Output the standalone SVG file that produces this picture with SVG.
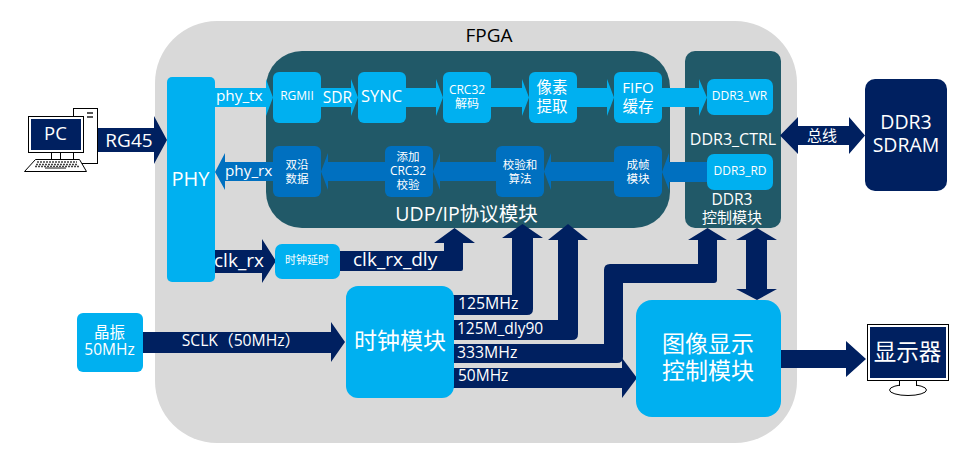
<svg xmlns="http://www.w3.org/2000/svg" width="966" height="453" viewBox="0 0 966 453">
<style>
text{font-family:"Open Sans","Noto Sans CJK SC","Noto Sans",sans-serif;fill:#fff;text-anchor:middle}
.cn{font-family:"Noto Sans CJK SC","Noto Sans",sans-serif}
.l{text-anchor:start}
.lb{fill:#00B0F0}.bl{fill:#0070C0}.nv{fill:#002060}.tl{fill:#215968}
.o{fill:#fff;stroke:#000;stroke-width:1}
</style>
<rect id="fpga-bg" x="155" y="21" width="642" height="422" rx="62" fill="#D9D9D9"/>
<text x="489" y="42" font-size="19" style="fill:#000">FPGA</text>
<g id="udp-panel"><rect class="tl" x="266" y="51" width="404" height="177" rx="36"/><text x="466.500" y="221" font-size="19.500">UDP/IP协议模块</text></g>
<g id="ddr3-panel"><rect class="tl" x="685" y="51" width="96" height="177" rx="10"/>
<text x="733" y="145" font-size="16">DDR3_CTRL</text><text x="732" y="205" font-size="15.500">DDR3</text><text x="732" y="223" font-size="15" class="cn">控制模块</text></g>
<g id="connectors">
<path class="nv" d="M97 128H154V116L167 140L154 164V152H97Z"/>
<path class="lb" d="M215 88H266V79L273 97.500L266 116V107H215Z"/>
<path class="lb" d="M321 88H351V79L358 97.500L351 116V107H321Z"/>
<path class="lb" d="M406 88H436V79L443 97.500L436 116V107H406Z"/>
<path class="lb" d="M491 88H522V79L529 97.500L522 116V107H491Z"/>
<path class="lb" d="M577 88H607V79L614 97.500L607 116V107H577Z"/>
<path class="lb" d="M662 88H699V79L707 97.500L699 116V107H662Z"/>
<path class="bl" d="M273 162H225V153L215 172L225 190V181H273Z"/>
<path class="bl" d="M385 162H328V153L321 171.500L328 190V181H385Z"/>
<path class="bl" d="M496 162H440V153L433 171.500L440 190V181H496Z"/>
<path class="bl" d="M614 162H551V153L544 171.500L551 190V181H614Z"/>
<path class="bl" d="M708 162H669V153L662 172L669 190V182H708Z"/>
<path class="nv" d="M780 135.500L798 117V126H849V117L865 135.500L849 154V145H798V154Z"/>
<path class="nv" d="M214 250H262V239L276 261L262 283V273H214Z"/>
<path class="nv" d="M339 251H444V243H434L454.500 228L475 243H463V269Q463 271 461 271H339Z"/>
<path class="nv" d="M143 332H331V322L345 342L331 362V353H143Z"/>
<path class="nv" d="M453 295H512V238H502L522.500 224L543 238H533V309Q533 315 527 315H453Z"/>
<path class="nv" d="M453 320H558V240H548L568 224L588 240H578V334Q578 340 572 340H453Z"/>
<path class="nv" d="M453 344H604V270Q604 264 610 264H698V240H688L707.500 228L727 240H717V280Q717 283 714 283H623V357Q623 363 617 363H453Z"/>
<path class="nv" d="M453 368H622V358L637 378L622 398V388H453Z"/>
<path class="nv" d="M757 228L777 240H767V289H777L757 300L736 289H746V240H736Z"/>
<path class="nv" d="M780 350H846V341L866 359L846 377V368H780Z"/>
</g>
<g id="phy"><rect class="lb" x="167" y="77" width="48" height="205" rx="5"/><text x="190.500" y="186" font-size="20">PHY</text></g>
<g id="rgmii"><rect class="lb" x="273" y="72" width="48" height="51" rx="6"/><text x="297" y="100" font-size="12">RGMII</text></g>
<g id="sync"><rect class="lb" x="358" y="72" width="48" height="51" rx="6"/><text x="381.500" y="102" font-size="16.500">SYNC</text></g>
<g id="crc32-dec"><rect class="lb" x="443" y="72" width="48" height="51" rx="6"/><text x="467" y="94" font-size="12">CRC32</text><text x="467" y="108" font-size="12" class="cn">解码</text></g>
<g id="pixel"><rect class="lb" x="529" y="72" width="48" height="51" rx="6"/><text x="552" y="93" font-size="15.500" class="cn">像素</text><text x="552" y="112" font-size="15.500" class="cn">提取</text></g>
<g id="fifo"><rect class="lb" x="614" y="72" width="48" height="51" rx="6"/><text x="638" y="93" font-size="15">FIFO</text><text x="638" y="112" font-size="15.500" class="cn">缓存</text></g>
<g id="ddr3-wr"><rect class="lb" x="707" y="79" width="66" height="36" rx="7"/><text x="739.500" y="100" font-size="12">DDR3_WR</text></g>
<g id="ddr3-rd"><rect class="lb" x="707" y="154" width="66" height="36" rx="7"/><text x="740" y="175" font-size="12">DDR3_RD</text></g>
<g id="dual-edge"><rect class="bl" x="273" y="146" width="48" height="51" rx="6"/><text x="297" y="169" font-size="11.500" class="cn">双沿</text><text x="297" y="183" font-size="11.500" class="cn">数据</text></g>
<g id="crc32-add"><rect class="bl" x="385" y="146" width="48" height="51" rx="6"/><text x="408" y="161" font-size="11.500" class="cn">添加</text><text x="408" y="175" font-size="12">CRC32</text><text x="408" y="189" font-size="11.500" class="cn">校验</text></g>
<g id="checksum"><rect class="bl" x="496" y="146" width="48" height="51" rx="6"/><text x="520" y="169" font-size="11.500" class="cn">校验和</text><text x="520" y="183" font-size="11.500" class="cn">算法</text></g>
<g id="framing"><rect class="bl" x="614" y="146" width="48" height="51" rx="6"/><text x="638" y="169" font-size="11.500" class="cn">成帧</text><text x="638" y="183" font-size="11.500" class="cn">模块</text></g>
<g id="clk-delay"><rect class="lb" x="275" y="244" width="65" height="35" rx="7"/><text x="307" y="264" font-size="11" class="cn">时钟延时</text></g>
<g id="clock-module"><rect class="lb" x="346" y="286" width="108" height="112" rx="12"/><text x="400" y="349" font-size="23" class="cn">时钟模块</text></g>
<g id="display-ctrl"><rect class="lb" x="636" y="300" width="145" height="117" rx="16"/><text x="708" y="352" font-size="23" class="cn">图像显示</text><text x="708" y="379" font-size="23" class="cn">控制模块</text></g>
<g id="osc"><rect class="lb" x="77" y="313" width="66" height="59" rx="6"/><text x="109.500" y="338" font-size="15.500" class="cn">晶振</text><text x="109.500" y="355" font-size="15.500">50MHz</text></g>
<g id="sdram"><rect class="nv" x="865" y="79" width="82" height="112" rx="10"/><text x="906" y="129" font-size="19.500">DDR3</text><text x="906" y="152" font-size="19.500">SDRAM</text></g>
<g id="pc">
<rect class="o" x="73.500" y="108.500" width="24" height="55"/>
<rect x="87" y="112" width="6" height="2" fill="#555"/><rect x="87" y="116" width="6" height="2" fill="#555"/>
<rect class="o" x="51.500" y="152.500" width="22" height="7"/><path d="M60.500 152V159" stroke="#000"/>
<path class="o" d="M35.500 159.500H79.500L86.500 171.500H24.500Z"/>
<path d="M37 162H77M36 164.500H78M35 166.500H79" stroke="#444" stroke-width="1.500" stroke-dasharray="2 1"/><rect x="45" y="167" width="21" height="2" fill="#888"/>
<rect class="o" x="28.500" y="116.500" width="55" height="36"/><rect class="nv" x="31" y="119" width="50" height="31"/>
<text x="55.500" y="140" font-size="18.500">PC</text>
</g>
<g id="monitor">
<ellipse class="o" cx="908" cy="390" rx="18.500" ry="5.500"/>
<path d="M900 380V386H916V380Z" fill="#fff"/><path d="M899.500 380V386M916.500 380V386" stroke="#000"/>
<rect class="o" x="867.500" y="324.500" width="81" height="56"/><rect class="nv" x="870" y="327" width="76" height="51"/>
<text x="907.500" y="360" font-size="22.500" class="cn">显示器</text>
</g>
<g id="labels">
<text x="129" y="147" font-size="19">RG45</text>
<text class="l" x="216" y="101" font-size="15.300">phy_tx</text>
<text class="l" x="225" y="176" font-size="15.300">phy_rx</text>
<text class="l" x="214" y="267" font-size="19">clk_rx</text>
<text class="l" x="353" y="266" font-size="19">clk_rx_dly</text>
<text x="337.500" y="103" font-size="15.500">SDR</text>
<text x="822" y="141" font-size="15" class="cn">总线</text>
<text x="241" y="346" font-size="15.700">SCLK（50MHz）</text>
<text class="l" x="458" y="309" font-size="15.800">125MHz</text>
<text class="l" x="457" y="334" font-size="15.500">125M_dly90</text>
<text class="l" x="457" y="358" font-size="15.800">333MHz</text>
<text class="l" x="458" y="381" font-size="15.500">50MHz</text>
</g>
</svg>
